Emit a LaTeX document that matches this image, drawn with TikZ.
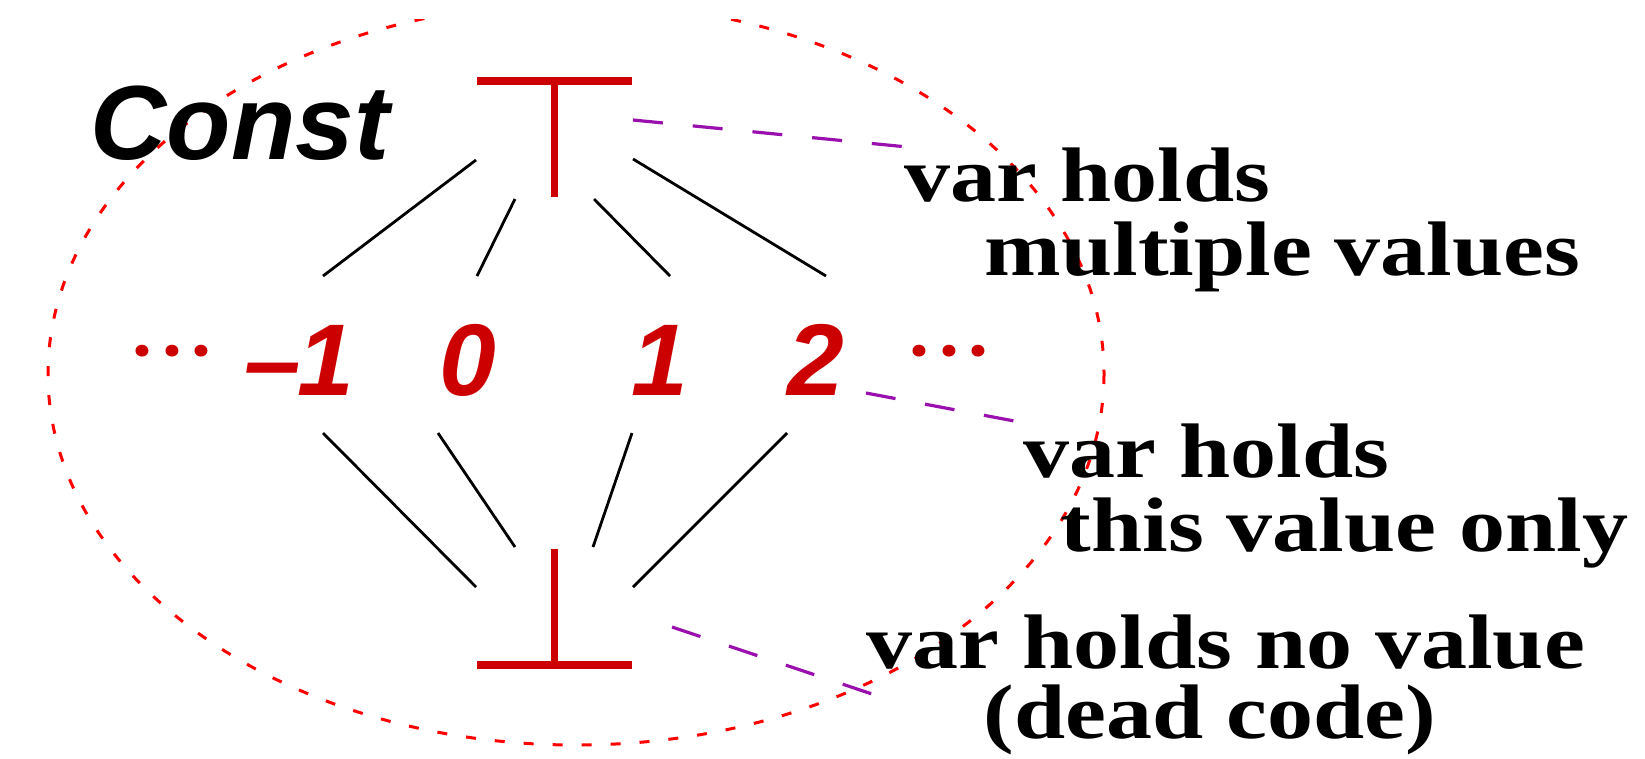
\documentclass[tikz,border=0pt]{standalone}
\usepackage{fontspec}
\usepackage{tikz}
\usetikzlibrary{positioning,calc}
\setsansfont{Liberation Sans}
\newfontfamily\notefont[FakeStretch=1.19]{Liberation Serif}
\newfontfamily\dotfont{Poppins}
\definecolor{latred}{HTML}{CC0000}
\definecolor{ringred}{HTML}{FF0000}
\definecolor{linkpurple}{HTML}{9A10AE}
\tikzset{
  lat/.style={line width=0.28mm, draw=black},
  bar/.style={line width=0.8mm, draw=latred},
  stem/.style={line width=0.7mm, draw=latred},
  elem/.style={anchor=base, inner sep=0pt, text=latred,
               font=\sffamily\bfseries\itshape\fontsize{29}{29}\selectfont},
  dots/.style={anchor=base, inner sep=0pt, text=latred,
               font=\dotfont\bfseries\fontsize{18}{18}\selectfont},
  note/.style={anchor=base west, inner sep=0pt,
               font=\notefont\bfseries\fontsize{22}{26}\selectfont},
  link/.style={draw=linkpurple, line width=0.32mm, dash pattern=on 3mm off 3mm},
  ring/.style={draw=ringred, line width=0.3mm, dash pattern=on 1mm off 1.9mm}
}
\newcommand{\gapdots}{.\kern1.2mm.\kern1.2mm.}

\begin{document}
\begin{tikzpicture}[x=0.1mm,y=-0.1mm]
  \fill[white] (0,0) rectangle (1645,758);
  \useasboundingbox (0,0) rectangle (1645,758);

  % the Const region
  \begin{scope}
    \clip (0,19) rectangle (1645,758);
    \draw[ring] (576,374) ellipse [x radius=528, y radius=371];
  \end{scope}
  \node[anchor=base west, inner sep=0pt,
        font=\sffamily\bfseries\itshape\fontsize{30}{30}\selectfont] (const) at (90,159) {Const};

  % top and bottom of the lattice
  \coordinate (top) at (554,81);
  \coordinate (bot) at (554,665);
  \draw[bar] ([xshift=-7.7mm]top) -- ([xshift=7.8mm]top);
  \draw[stem] (top) -- ++(0,116);
  \draw[bar] ([xshift=-7.7mm]bot) -- ([xshift=7.8mm]bot);
  \draw[stem] (bot) -- ++(0,-116);

  % constants
  \node[dots] (dl) at (172,356) {\gapdots};
  \node[elem] (nm1) at (299,395) {–\kern-0.04em1};
  \node[elem] (n0) at (468,395) {0};
  \node[elem] (n1) at (660,395) {1};
  \node[elem] (n2) at (816,395) {2};
  \node[dots] (dr) at (949,356) {\gapdots};

  % line ends
  \foreach \c/\x/\y in {ta/476/160, tb/515/199, tc/594/199, td/633/159,
                        m1u/323/276, n0u/477/276, n1u/670/276, n2u/826/276,
                        m1d/323/433, n0d/438/433, n1d/632/433, n2d/787/433,
                        ba/476/587, bb/515/547, bc/593/547, bd/633/587}
    \coordinate (\c) at (\x,\y);
  \foreach \a/\b in {ta/m1u, tb/n0u, tc/n1u, td/n2u, m1d/ba, n0d/bb, n1d/bc, n2d/bd}
    \draw[lat] (\a) -- (\b);

  % notes
  \node[note] (v1) at (904,201) {var holds};
  \node[note] (v1b) at (984,275) {multiple values};
  \node[note] (v2) at (1023,477) {var holds};
  \node[note] (v2b) at (1060,551) {this value only};
  \node[note] (v3) at (866,668) {var holds no value};
  \node[note] (v3b) at (983,738) {(dead code)};

  \coordinate (k1) at (633,120);
  \coordinate (k2) at (866,393);
  \coordinate (k3) at (672,627);
  \coordinate (k3e) at (878,696);
  \draw[link] (k1) -- (v1.north west);
  \draw[link] (k2) -- (v2.north west);
  \draw[link] (k3) -- (k3e);
\end{tikzpicture}
\end{document}
